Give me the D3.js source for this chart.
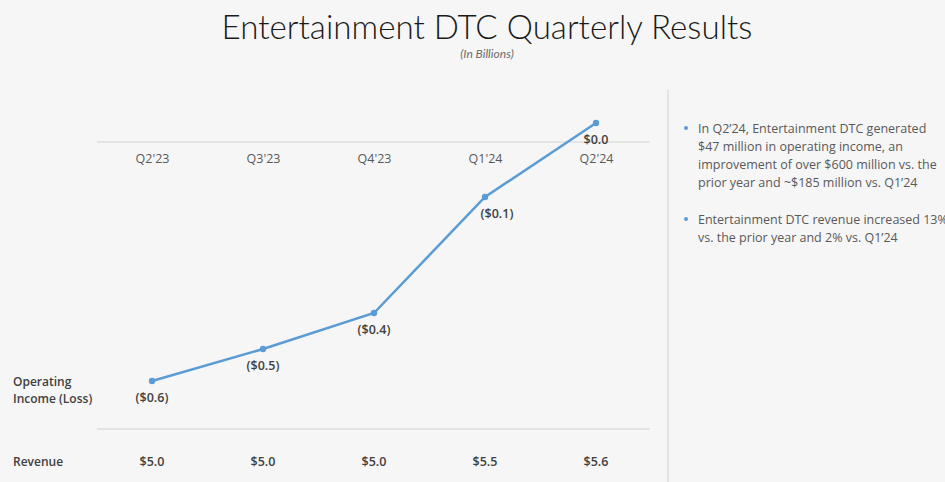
<!DOCTYPE html>
<html>
<head>
<meta charset="utf-8">
<script src="https://cdn.jsdelivr.net/npm/d3@7"></script>
<style>
  html, body { margin: 0; padding: 0; background: #f6f6f6; }
  svg { display: block; }
</style>
</head>
<body>
<svg id="chart" width="945" height="482"></svg>
<script>
// Entertainment DTC quarterly figures (US$ billions)
const quarters = ["Q2'23", "Q3'23", "Q4'23", "Q1'24", "Q2'24"];
const operatingIncome = [-0.60, -0.52, -0.43, -0.14, 0.045];
const revenue = [5.0, 5.0, 5.0, 5.5, 5.6];
const bullets = [
  ["In Q2\u201924, Entertainment DTC generated",
   "$47 million in operating income, an",
   "improvement of over $600 million vs. the",
   "prior year and ~$185 million vs. Q1\u201924"],
  ["Entertainment DTC revenue increased 13%",
   "vs. the prior year and 2% vs. Q1\u201924"]
];

const W = 945, H = 482;
const svg = d3.select("#chart");
const bodyFont = "'Open Sans', 'Noto Sans', sans-serif";
const blue = "#5b9bd5";

// Title and subtitle
const title = svg.append("text")
  .attr("x", 487).attr("y", 39)
  .attr("text-anchor", "middle")
  .attr("font-family", "Lato, sans-serif")
  .attr("font-weight", 300)
  .attr("font-size", 34)
  .attr("fill", "#1a1a1a")
  .text("Entertainment DTC Quarterly Results");
const tw = title.node().getComputedTextLength();
title.attr("font-size", 34 * 531 / tw);

svg.append("text")
  .attr("x", 487).attr("y", 58)
  .attr("text-anchor", "middle")
  .attr("font-family", "Lato, sans-serif")
  .attr("font-style", "italic")
  .attr("font-size", 12)
  .attr("fill", "#6b6b6b")
  .text("(In Billions)");

// Scales
const x = d3.scalePoint().domain(quarters).range([152, 596]);
const y = d3.scaleLinear().domain([-0.7, 0.1]).range([421, 101]);

// Table rules
svg.append("line").attr("x1", 97).attr("x2", 650).attr("y1", 142).attr("y2", 142)
  .attr("stroke", "#dedede").attr("stroke-width", 1.5);
svg.append("line").attr("x1", 97).attr("x2", 650).attr("y1", 429).attr("y2", 429)
  .attr("stroke", "#dedede").attr("stroke-width", 1.5);
svg.append("line").attr("x1", 668).attr("x2", 668).attr("y1", 90).attr("y2", H)
  .attr("stroke", "#dcdcdc").attr("stroke-width", 1.5);

// Quarter header row (axis)
const xAxis = svg.append("g")
  .attr("transform", "translate(0,142)")
  .call(d3.axisBottom(x).tickSize(0).tickPadding(12));
xAxis.select(".domain").remove();
xAxis.selectAll("text")
  .attr("font-family", bodyFont)
  .attr("font-size", 12.5)
  .attr("fill", "#595959");

// Operating income line
const pts = quarters.map((q, i) => ({ q, v: operatingIncome[i] }));
svg.append("path")
  .datum(pts)
  .attr("fill", "none")
  .attr("stroke", blue)
  .attr("stroke-width", 2.5)
  .attr("d", d3.line().x(d => x(d.q)).y(d => y(d.v)));

svg.selectAll("circle.pt")
  .data(pts).join("circle")
  .attr("class", "pt")
  .attr("cx", d => x(d.q)).attr("cy", d => y(d.v))
  .attr("r", 3.2)
  .attr("fill", blue);

const fmt = v => {
  const s = "$" + d3.format(".1f")(Math.abs(v));
  return (Math.round(v * 10) < 0) ? "(" + s + ")" : s;
};
svg.selectAll("text.val")
  .data(pts).join("text")
  .attr("class", "val")
  .attr("x", d => x(d.q) + (d.q === "Q1'24" ? 12 : 0))
  .attr("y", d => y(d.v) + 21)
  .attr("text-anchor", "middle")
  .attr("font-family", bodyFont)
  .attr("font-weight", 600)
  .attr("font-size", 12.5)
  .attr("fill", "#404040")
  .text(d => fmt(d.v));

// Row labels
const rowLabel = svg.append("text")
  .attr("font-family", bodyFont)
  .attr("font-weight", 600)
  .attr("font-size", 12)
  .attr("fill", "#404040");
rowLabel.append("tspan").attr("x", 13).attr("y", 386).text("Operating");
rowLabel.append("tspan").attr("x", 13).attr("y", 403).text("Income (Loss)");

svg.append("text")
  .attr("x", 13).attr("y", 466)
  .attr("font-family", bodyFont)
  .attr("font-weight", 600)
  .attr("font-size", 12)
  .attr("fill", "#404040")
  .text("Revenue");

svg.selectAll("text.rev")
  .data(quarters).join("text")
  .attr("class", "rev")
  .attr("x", d => x(d)).attr("y", 466)
  .attr("text-anchor", "middle")
  .attr("font-family", bodyFont)
  .attr("font-weight", 600)
  .attr("font-size", 12.5)
  .attr("fill", "#404040")
  .text((d, i) => "$" + d3.format(".1f")(revenue[i]));

// Commentary bullets
const bulletTops = [133, 224];
bullets.forEach((lines, bi) => {
  svg.append("circle")
    .attr("cx", 686).attr("cy", bulletTops[bi] - 5)
    .attr("r", 2)
    .attr("fill", blue);
  const t = svg.append("text")
    .attr("font-family", bodyFont)
    .attr("font-size", 12.5)
    .attr("fill", "#595959");
  lines.forEach((ln, li) => {
    t.append("tspan").attr("x", 698).attr("y", bulletTops[bi] + li * 18).text(ln);
  });
});
</script>
</body>
</html>
